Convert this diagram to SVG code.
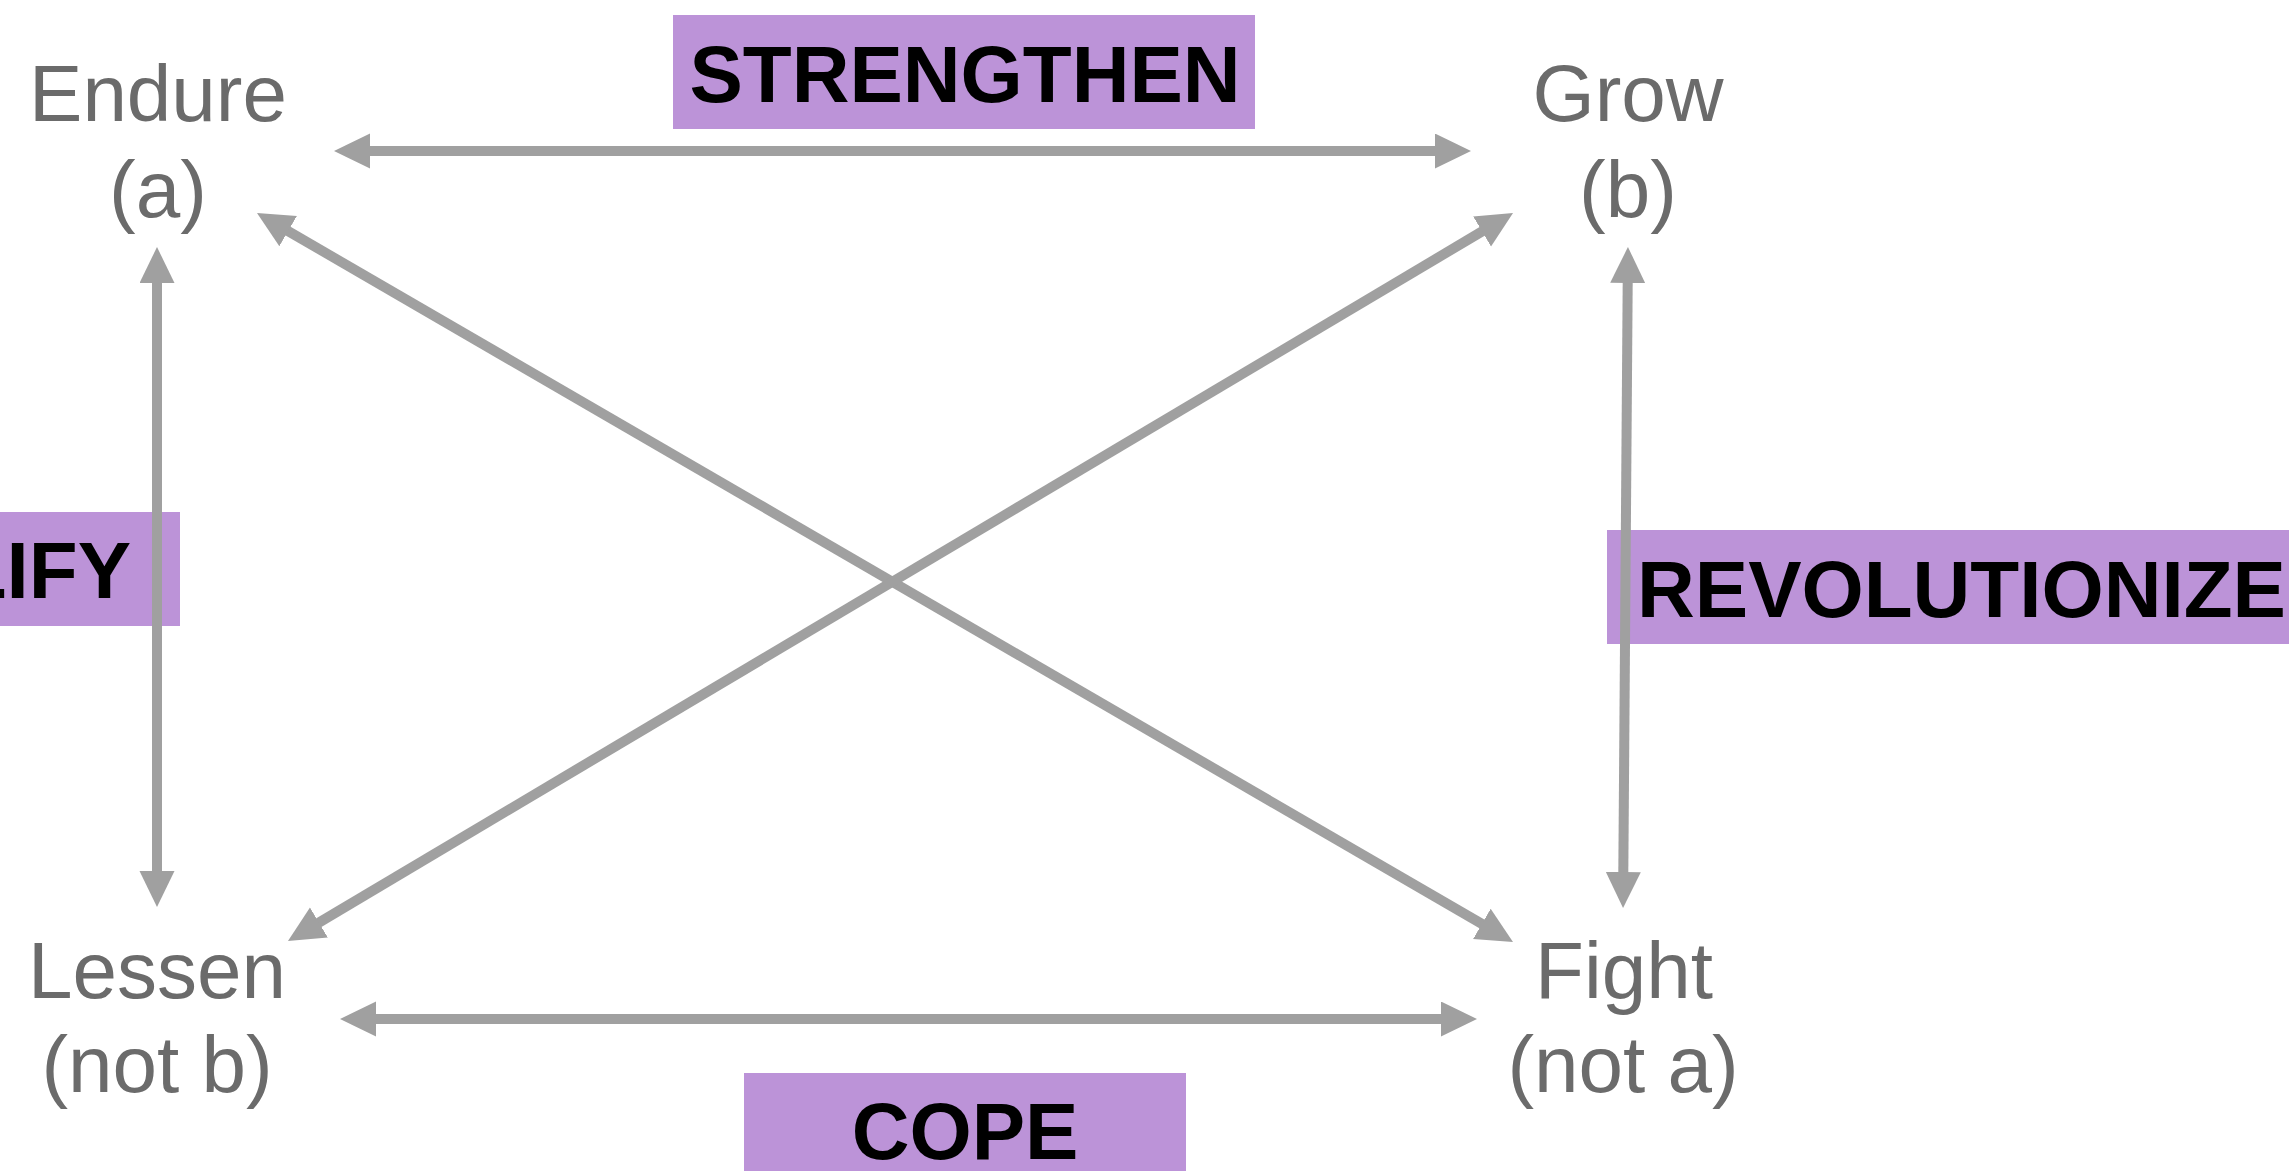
<svg xmlns="http://www.w3.org/2000/svg" width="2289" height="1171" viewBox="0 0 2289 1171">
<style>
.lbl{font-family:"Liberation Sans",Arial,Helvetica,sans-serif;font-size:80px;fill:#6b6b6b;text-anchor:middle}
.tag{font-family:"Liberation Sans",Arial,Helvetica,sans-serif;font-size:80px;font-weight:bold;fill:#000}
.box{fill:#bc93d8}
.conn{stroke:#a0a0a0;stroke-width:10;fill:none;marker-start:url(#ah);marker-end:url(#ah)}
</style>
<defs>
<marker id="ah" markerUnits="userSpaceOnUse" markerWidth="40" markerHeight="40" refX="2" refY="17.5" orient="auto-start-reverse" viewBox="0 0 40 40">
<path d="M0,0 L36,17.5 L0,35 Z" fill="#a0a0a0"/>
</marker>
</defs>
<rect width="2289" height="1171" fill="#fff"/>
<g id="tag-strengthen">
<rect class="box" x="673" y="15" width="582" height="114"/>
<text class="tag" x="965" y="102" text-anchor="middle">STRENGTHEN</text>
</g>
<g id="tag-cope">
<rect class="box" x="744" y="1073" width="442" height="110"/>
<text class="tag" x="965" y="1159" text-anchor="middle">COPE</text>
</g>
<g id="tag-lify">
<rect class="box" x="-100" y="512" width="280" height="114"/>
<text class="tag" x="131" y="598" text-anchor="end">LIFY</text>
</g>
<g id="tag-revolutionize">
<rect class="box" x="1607" y="530" width="700" height="114"/>
<text class="tag" x="1637" y="617">REVOLUTIONIZE</text>
</g>
<g id="connectors">
<line class="conn" x1="368" y1="151" x2="1437" y2="151"/>
<line class="conn" x1="374" y1="1019" x2="1443" y2="1019"/>
<line class="conn" x1="157" y1="281" x2="157" y2="873"/>
<line class="conn" x1="1627.7" y1="281" x2="1623.3" y2="874"/>
<line class="conn" x1="286.4" y1="230.1" x2="1483.6" y2="924.9"/>
<line class="conn" x1="317.2" y1="923.6" x2="1483.8" y2="230.4"/>
</g>
<g id="node-endure">
<text class="lbl" x="158" y="121">Endure</text>
<text class="lbl" x="158" y="217">(a)</text>
</g>
<g id="node-grow">
<text class="lbl" x="1628" y="121">Grow</text>
<text class="lbl" x="1628" y="217">(b)</text>
</g>
<g id="node-lessen">
<text class="lbl" x="157" y="998">Lessen</text>
<text class="lbl" x="157" y="1092">(not b)</text>
</g>
<g id="node-fight">
<text class="lbl" x="1624" y="998">Fight</text>
<text class="lbl" x="1623" y="1092">(not a)</text>
</g>
</svg>
